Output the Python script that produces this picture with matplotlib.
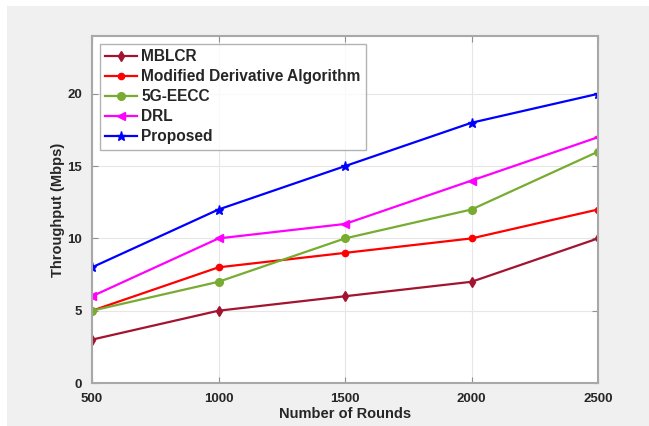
import matplotlib
matplotlib.use("Agg")
import matplotlib.pyplot as plt
from matplotlib.patches import Rectangle

rounds = [500, 1000, 1500, 2000, 2500]
mblcr = [3, 5, 6, 7, 10]
modified = [5, 8, 9, 10, 12]
eecc = [5, 7, 10, 12, 16]
drl = [6, 10, 11, 14, 17]
proposed = [8, 12, 15, 18, 20]

series = [
    ("MBLCR", mblcr, "#a2142f", "d", 5.5),
    ("Modified Derivative Algorithm", modified, "#ff0000", "o", 4.5),
    ("5G-EECC", eecc, "#77ac30", "o", 5.5),
    ("DRL", drl, "#ff00ff", "<", 5.5),
    ("Proposed", proposed, "#0000ff", "*", 6.5),
]

plt.rcParams['font.family'] = ['Liberation Sans', 'DejaVu Sans']
plt.rcParams['font.weight'] = 'bold'

W, H = 649, 426
fig = plt.figure(figsize=(W / 100, H / 100), dpi=100, facecolor="white")
fig.patches.append(Rectangle((7 / W, 0), 1 - 7 / W, 1 - 6 / H, transform=fig.transFigure,
                             facecolor="#f0f0f0", edgecolor="none", zorder=-10))

ax = fig.add_axes([92 / W, 1 - 383 / H, (598 - 92) / W, (383 - 36) / H])
ax.set_facecolor("white")

for name, vals, col, mk, ms in series:
    ax.plot(rounds, vals, color=col, marker=mk, markersize=ms, linewidth=1.6,
            markerfacecolor=col, markeredgecolor=col, label=name)

ax.set_xlim(500, 2500)
ax.set_ylim(0, 24)
ax.set_xticks(rounds)
ax.set_yticks([0, 5, 10, 15, 20])
ax.grid(True, color="#e6e6e6", linewidth=0.8)
ax.set_axisbelow(True)
ax.tick_params(direction="in", top=True, right=True, length=4, color="#909090",
               labelsize=9.5, labelcolor="#262626", pad=7)
for lab in ax.get_xticklabels() + ax.get_yticklabels():
    lab.set_fontweight("bold")
for s in ax.spines.values():
    s.set_color("#a8a8a8")
    s.set_linewidth(1.5)

ax.set_xlabel("Number of Rounds", fontsize=10.5, fontweight="bold", color="#262626", labelpad=2)
ax.set_ylabel("Throughput (Mbps)", fontsize=10.5, fontweight="bold", color="#262626", labelpad=2)

leg = ax.legend(loc="upper left", bbox_to_anchor=((100 - 92) / (598 - 92), 1 - (44 - 36) / (383 - 36)),
                fontsize=11.2, frameon=True, fancybox=False, edgecolor="#a0a0a0",
                borderaxespad=0, handlelength=2.0, handletextpad=0.3, labelspacing=0.32,
                borderpad=0.35)
leg.get_frame().set_linewidth(1.0)
for t in leg.get_texts():
    t.set_fontweight("bold")
    t.set_color("#262626")

fig.savefig("out.png", dpi=100, facecolor=fig.get_facecolor())
